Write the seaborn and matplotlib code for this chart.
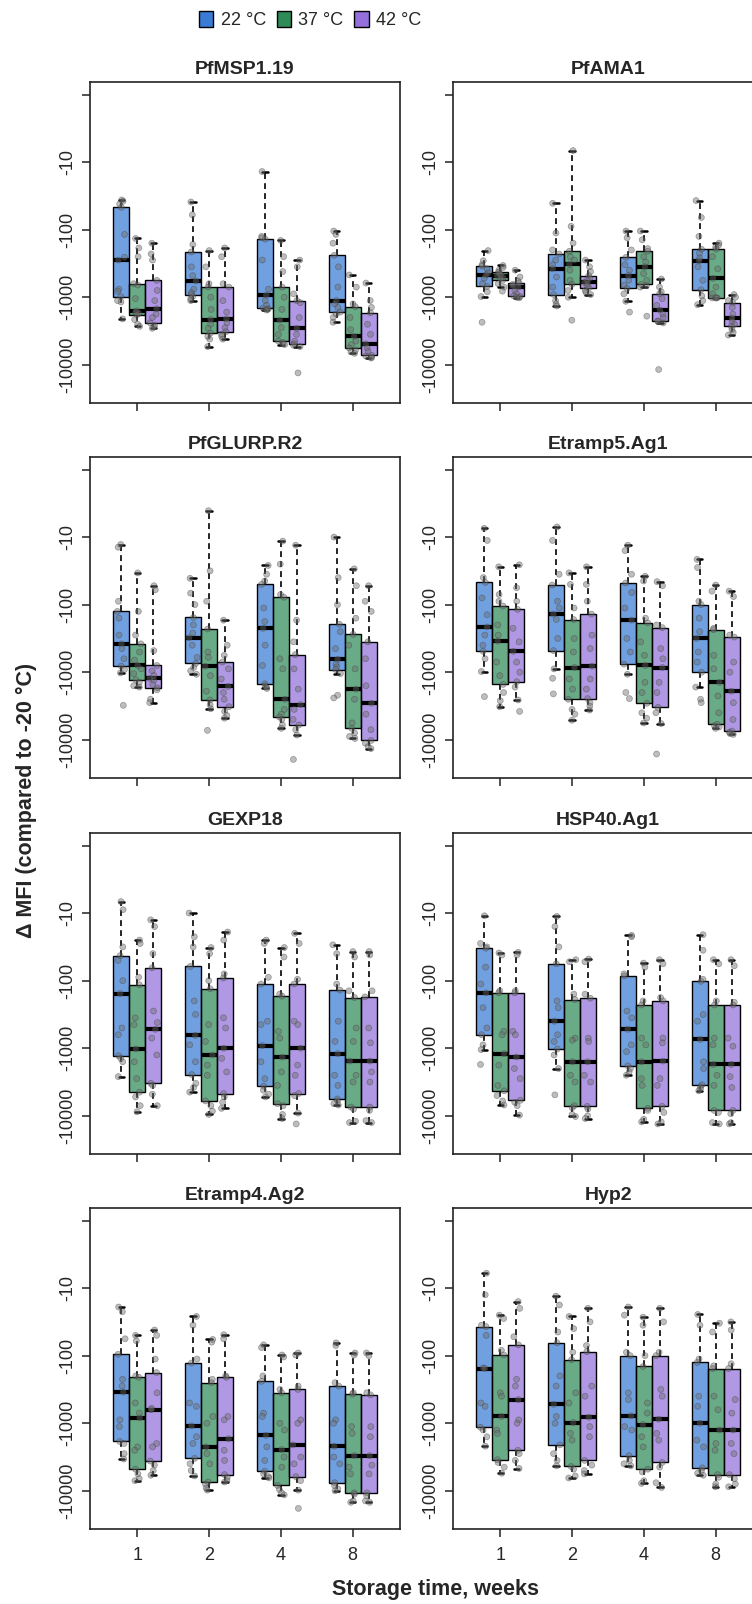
import numpy as np
import pandas as pd
import matplotlib

matplotlib.use("Agg")
import matplotlib.pyplot as plt
from matplotlib import font_manager
from matplotlib.colors import to_rgba
from matplotlib.patches import Patch
from matplotlib.ticker import NullLocator
import seaborn as sns

weeks = ["1", "2", "4", "8"]
temps = ["22 °C", "37 °C", "42 °C"]
temp_colors = ["#3A7BD5", "#2E8B57", "#9370DB"]
antigens = ["PfMSP1.19", "PfAMA1", "PfGLURP.R2", "Etramp5.Ag1",
            "GEXP18", "HSP40.Ag1", "Etramp4.Ag2", "Hyp2"]

# log10(|delta MFI|) per sample.
# 12 groups per antigen: week 1 (22, 37, 42 °C), week 2 (...), week 4, week 8
pfmsp1_19 = [
    [1.56, 1.58, 1.62, 1.67, 2.07, 2.41, 2.45, 2.88, 2.91, 2.99, 3.05, 3.07, 3.32],
    [2.13, 2.27, 2.40, 2.80, 2.82, 3.02, 3.20, 3.22, 3.24, 3.26, 3.33, 3.40, 3.43],
    [2.20, 2.36, 2.45, 2.75, 2.90, 3.05, 3.17, 3.25, 3.30, 3.38, 3.42, 3.44, 3.46],
    [1.59, 1.78, 2.22, 2.33, 2.55, 2.68, 2.76, 2.88, 2.93, 2.96, 2.99, 3.02, 3.05],
    [2.31, 2.55, 2.80, 2.85, 3.00, 3.18, 3.33, 3.40, 3.46, 3.53, 3.58, 3.62, 3.73],
    [2.27, 2.40, 2.80, 2.85, 3.05, 3.22, 3.32, 3.38, 3.45, 3.51, 3.55, 3.58, 3.62],
    [1.14, 2.10, 2.12, 2.14, 2.45, 2.88, 2.97, 3.05, 3.12, 3.16, 3.17, 3.18, 3.19],
    [2.16, 2.40, 2.62, 2.85, 3.00, 3.18, 3.34, 3.45, 3.55, 3.65, 3.67, 3.69, 3.70],
    [2.45, 2.55, 2.95, 3.05, 3.08, 3.30, 3.46, 3.55, 3.65, 3.69, 3.71, 3.73, 4.12],
    [2.02, 2.07, 2.20, 2.38, 2.55, 2.85, 3.05, 3.10, 3.15, 3.22, 3.25, 3.30, 3.37],
    [2.67, 2.85, 3.10, 3.14, 3.30, 3.48, 3.58, 3.65, 3.70, 3.75, 3.78, 3.81, 3.83],
    [2.79, 3.05, 3.15, 3.23, 3.40, 3.55, 3.69, 3.75, 3.80, 3.86, 3.87, 3.89, 3.90],
]
pfama1 = [
    [2.31, 2.46, 2.52, 2.54, 2.58, 2.64, 2.67, 2.72, 2.80, 2.84, 2.92, 2.99, 3.37],
    [2.53, 2.56, 2.60, 2.63, 2.65, 2.67, 2.68, 2.70, 2.72, 2.75, 2.80, 2.85, 2.91],
    [2.60, 2.70, 2.76, 2.79, 2.81, 2.83, 2.85, 2.90, 2.95, 2.98, 2.99, 3.00, 3.01],
    [1.61, 2.05, 2.30, 2.36, 2.45, 2.52, 2.58, 2.70, 2.85, 2.96, 3.05, 3.10, 3.13],
    [0.83, 1.95, 2.20, 2.32, 2.40, 2.45, 2.51, 2.60, 2.75, 2.81, 2.90, 3.00, 3.34],
    [2.45, 2.55, 2.62, 2.68, 2.72, 2.75, 2.78, 2.80, 2.83, 2.86, 2.90, 2.93, 2.96],
    [2.02, 2.12, 2.30, 2.41, 2.52, 2.60, 2.68, 2.75, 2.82, 2.87, 2.95, 3.06, 3.22],
    [2.02, 2.15, 2.28, 2.32, 2.40, 2.48, 2.55, 2.65, 2.75, 2.81, 2.83, 2.85, 3.28],
    [2.73, 2.85, 2.92, 2.95, 3.02, 3.12, 3.19, 3.25, 3.30, 3.35, 3.36, 3.38, 4.07],
    [1.57, 1.82, 2.10, 2.29, 2.35, 2.42, 2.46, 2.55, 2.75, 2.89, 2.98, 3.05, 3.11],
    [2.20, 2.23, 2.26, 2.29, 2.40, 2.58, 2.72, 2.85, 2.95, 3.01, 3.01, 3.01, 3.01],
    [2.96, 3.00, 3.05, 3.08, 3.15, 3.25, 3.31, 3.36, 3.40, 3.43, 3.48, 3.52, 3.56],
]
pfglurp_r2 = [
    [1.11, 1.15, 1.95, 2.10, 2.20, 2.45, 2.58, 2.65, 2.80, 2.91, 2.96, 3.01, 3.49],
    [1.53, 2.10, 2.45, 2.58, 2.70, 2.82, 2.90, 2.95, 3.02, 3.11, 3.15, 3.20, 3.22],
    [1.72, 1.78, 2.68, 2.90, 2.98, 3.05, 3.09, 3.12, 3.18, 3.23, 3.26, 3.40, 3.45],
    [1.61, 1.83, 2.00, 2.19, 2.30, 2.42, 2.49, 2.60, 2.78, 2.87, 2.93, 2.98, 3.03],
    [0.61, 1.50, 1.95, 2.36, 2.70, 2.78, 2.91, 3.05, 3.28, 3.41, 3.48, 3.54, 3.86],
    [2.23, 2.60, 2.75, 2.85, 2.95, 3.10, 3.21, 3.30, 3.40, 3.51, 3.58, 3.64, 3.68],
    [1.42, 1.55, 1.65, 1.70, 2.05, 2.25, 2.35, 2.60, 2.90, 3.17, 3.20, 3.22, 3.24],
    [1.06, 1.40, 1.85, 1.89, 2.80, 2.95, 3.40, 3.55, 3.62, 3.66, 3.70, 3.78, 3.83],
    [1.12, 2.23, 2.55, 2.74, 2.95, 3.25, 3.48, 3.55, 3.70, 3.78, 3.85, 3.93, 4.29],
    [1.00, 1.60, 2.00, 2.29, 2.40, 2.65, 2.81, 2.88, 2.92, 2.96, 3.02, 3.34, 3.38],
    [1.47, 1.72, 2.20, 2.44, 2.60, 2.95, 3.25, 3.40, 3.75, 3.83, 3.90, 3.95, 3.98],
    [1.72, 1.95, 2.10, 2.55, 2.80, 3.20, 3.46, 3.62, 3.85, 4.01, 4.05, 4.10, 4.13],
]
etramp5_ag1 = [
    [0.87, 1.05, 1.60, 1.67, 1.90, 2.15, 2.33, 2.45, 2.60, 2.69, 2.80, 2.99, 3.36],
    [1.44, 1.85, 1.95, 2.02, 2.30, 2.45, 2.54, 2.85, 3.05, 3.18, 3.30, 3.42, 3.51],
    [1.41, 1.75, 1.95, 2.07, 2.35, 2.55, 2.69, 2.85, 3.00, 3.14, 3.22, 3.41, 3.58],
    [0.85, 1.05, 1.55, 1.71, 1.95, 2.05, 2.14, 2.22, 2.50, 2.68, 2.95, 3.09, 3.32],
    [1.53, 1.70, 2.05, 2.22, 2.50, 2.70, 2.93, 3.10, 3.25, 3.40, 3.55, 3.62, 3.71],
    [1.44, 1.70, 1.95, 2.14, 2.45, 2.65, 2.91, 3.10, 3.25, 3.39, 3.45, 3.50, 3.56],
    [1.12, 1.20, 1.55, 1.68, 1.82, 2.05, 2.23, 2.50, 2.70, 2.88, 3.03, 3.30, 3.39],
    [1.58, 1.65, 2.20, 2.27, 2.55, 2.75, 2.90, 3.15, 3.30, 3.46, 3.60, 3.68, 3.75],
    [1.66, 1.72, 2.30, 2.34, 2.65, 2.80, 2.93, 3.15, 3.30, 3.52, 3.60, 3.76, 4.21],
    [1.33, 1.45, 1.95, 2.00, 2.20, 2.40, 2.50, 2.70, 2.85, 3.00, 3.22, 3.40, 3.45],
    [1.71, 1.80, 2.35, 2.37, 2.75, 2.95, 3.15, 3.35, 3.60, 3.77, 3.79, 3.81, 3.83],
    [1.80, 1.88, 2.45, 2.48, 2.85, 3.00, 3.28, 3.45, 3.70, 3.87, 3.89, 3.91, 3.92],
]
gexp18 = [
    [0.83, 0.95, 1.50, 1.63, 1.70, 2.00, 2.19, 2.70, 2.80, 3.11, 3.15, 3.20, 3.42],
    [1.40, 1.45, 1.95, 2.06, 2.55, 2.65, 3.01, 3.20, 3.45, 3.65, 3.72, 3.85, 3.94],
    [1.10, 1.20, 1.60, 1.81, 2.45, 2.62, 2.72, 2.85, 3.10, 3.52, 3.55, 3.68, 3.85],
    [1.00, 1.35, 1.50, 1.79, 2.30, 2.50, 2.81, 2.95, 3.20, 3.39, 3.52, 3.58, 3.65],
    [1.51, 1.60, 2.00, 2.12, 2.65, 2.90, 3.10, 3.25, 3.40, 3.78, 3.85, 3.93, 3.98],
    [1.28, 1.40, 1.90, 1.96, 2.55, 2.70, 3.00, 3.15, 3.35, 3.67, 3.72, 3.80, 3.89],
    [1.40, 1.45, 1.95, 2.05, 2.60, 2.65, 2.96, 3.20, 3.45, 3.56, 3.62, 3.68, 3.72],
    [1.51, 1.65, 2.20, 2.23, 2.75, 2.85, 3.13, 3.35, 3.55, 3.82, 3.85, 3.98, 4.04],
    [1.30, 1.45, 1.98, 2.05, 2.60, 2.65, 3.00, 3.25, 3.40, 3.67, 3.70, 3.96, 4.12],
    [1.47, 1.60, 2.05, 2.14, 2.60, 2.90, 3.08, 3.40, 3.55, 3.75, 3.78, 3.82, 3.84],
    [1.57, 1.65, 2.15, 2.25, 2.70, 2.90, 3.19, 3.40, 3.50, 3.87, 3.90, 4.08, 4.10],
    [1.57, 1.62, 2.15, 2.24, 2.70, 2.92, 3.19, 3.35, 3.50, 3.87, 3.92, 4.07, 4.10],
]
hsp40_ag1 = [
    [1.04, 1.45, 1.50, 1.52, 1.80, 2.05, 2.18, 2.40, 2.70, 2.80, 2.95, 3.02, 3.24],
    [1.59, 1.62, 2.15, 2.18, 2.75, 2.80, 3.08, 3.25, 3.55, 3.63, 3.70, 3.78, 3.84],
    [1.58, 1.62, 2.15, 2.18, 2.75, 2.80, 3.13, 3.30, 3.45, 3.77, 3.80, 3.85, 3.99],
    [1.05, 1.20, 1.50, 1.75, 2.30, 2.40, 2.60, 2.80, 2.90, 3.01, 3.10, 3.30, 3.69],
    [1.69, 1.72, 2.20, 2.28, 2.85, 2.88, 3.20, 3.40, 3.50, 3.85, 3.88, 3.98, 4.01],
    [1.68, 1.72, 2.20, 2.26, 2.85, 2.90, 3.20, 3.40, 3.50, 3.86, 3.90, 4.00, 4.04],
    [1.33, 1.35, 1.90, 1.93, 2.45, 2.55, 2.72, 2.95, 3.05, 3.26, 3.30, 3.35, 3.40],
    [1.74, 1.80, 2.30, 2.36, 2.85, 2.95, 3.20, 3.45, 3.55, 3.89, 3.92, 4.05, 4.09],
    [1.69, 1.75, 2.25, 2.30, 2.85, 2.92, 3.19, 3.45, 3.55, 3.86, 3.95, 4.09, 4.12],
    [1.32, 1.55, 1.98, 2.01, 2.50, 2.60, 2.87, 3.20, 3.30, 3.54, 3.57, 3.60, 3.63],
    [1.69, 1.75, 2.30, 2.36, 2.85, 2.95, 3.24, 3.40, 3.55, 3.92, 3.95, 4.10, 4.12],
    [1.69, 1.78, 2.32, 2.36, 2.85, 2.97, 3.24, 3.42, 3.58, 3.92, 3.97, 4.10, 4.12],
]
etramp4_ag2 = [
    [1.28, 1.35, 1.75, 1.98, 2.35, 2.45, 2.54, 2.95, 3.05, 3.27, 3.30, 3.45, 3.53],
    [1.70, 1.78, 2.30, 2.32, 2.70, 2.85, 2.92, 3.35, 3.40, 3.68, 3.75, 3.82, 3.85],
    [1.62, 1.70, 2.05, 2.25, 2.55, 2.78, 2.80, 3.30, 3.35, 3.56, 3.62, 3.70, 3.77],
    [1.42, 1.55, 2.05, 2.11, 2.70, 2.75, 3.04, 3.20, 3.30, 3.52, 3.60, 3.70, 3.78],
    [1.76, 1.80, 2.35, 2.40, 2.90, 3.00, 3.35, 3.45, 3.60, 3.87, 3.90, 3.96, 3.99],
    [1.69, 1.75, 2.30, 2.32, 2.90, 2.95, 3.23, 3.40, 3.55, 3.76, 3.80, 3.85, 3.87],
    [1.84, 1.88, 2.30, 2.38, 2.85, 2.90, 3.18, 3.35, 3.55, 3.71, 3.75, 3.79, 3.81],
    [1.99, 2.02, 2.50, 2.55, 3.00, 3.10, 3.39, 3.50, 3.65, 3.92, 3.98, 4.03, 4.06],
    [1.96, 1.99, 2.45, 2.50, 2.95, 3.00, 3.32, 3.50, 3.60, 3.79, 3.85, 3.99, 4.26],
    [1.81, 1.85, 2.40, 2.45, 2.95, 3.00, 3.34, 3.50, 3.60, 3.88, 3.92, 3.97, 4.00],
    [1.96, 1.99, 2.55, 2.57, 3.05, 3.15, 3.48, 3.65, 3.75, 4.03, 4.05, 4.15, 4.17],
    [1.96, 2.00, 2.55, 2.58, 3.05, 3.20, 3.48, 3.62, 3.75, 4.03, 4.07, 4.15, 4.17],
]
hyp2 = [
    [0.78, 1.10, 1.55, 1.57, 1.70, 2.18, 2.19, 2.70, 2.75, 3.06, 3.10, 3.20, 3.34],
    [1.40, 1.45, 1.92, 1.99, 2.55, 2.60, 2.90, 3.10, 3.15, 3.54, 3.58, 3.65, 3.74],
    [1.20, 1.30, 1.72, 1.84, 2.35, 2.45, 2.65, 2.95, 3.00, 3.40, 3.45, 3.55, 3.67],
    [1.12, 1.25, 1.65, 1.81, 2.30, 2.45, 2.72, 2.90, 3.00, 3.32, 3.45, 3.55, 3.63],
    [1.42, 1.60, 1.95, 2.06, 2.55, 2.70, 2.99, 3.15, 3.25, 3.64, 3.68, 3.78, 3.81],
    [1.30, 1.50, 1.85, 1.94, 2.45, 2.60, 2.91, 3.05, 3.20, 3.55, 3.62, 3.70, 3.75],
    [1.28, 1.40, 1.95, 2.00, 2.55, 2.65, 2.89, 3.05, 3.10, 3.48, 3.55, 3.60, 3.63],
    [1.43, 1.55, 2.00, 2.16, 2.70, 2.85, 3.02, 3.20, 3.35, 3.68, 3.72, 3.85, 3.89],
    [1.30, 1.50, 1.95, 2.00, 2.50, 2.60, 2.94, 3.15, 3.25, 3.58, 3.65, 3.88, 3.95],
    [1.39, 1.55, 2.05, 2.10, 2.60, 2.75, 3.00, 3.25, 3.35, 3.66, 3.70, 3.74, 3.77],
    [1.52, 1.65, 2.15, 2.19, 2.60, 2.80, 3.10, 3.30, 3.40, 3.76, 3.80, 3.90, 3.94],
    [1.50, 1.62, 2.12, 2.19, 2.65, 2.85, 3.10, 3.30, 3.45, 3.76, 3.82, 3.90, 3.94],
]
panel_data = [pfmsp1_19, pfama1, pfglurp_r2, etramp5_ag1,
              gexp18, hsp40_ag1, etramp4_ag2, hyp2]

records = []
for name, groups in zip(antigens, panel_data):
    for i, vals in enumerate(groups):
        for v in vals:
            records.append((name, weeks[i // 3], temps[i % 3], -(10.0 ** v)))
df = pd.DataFrame(records, columns=["antigen", "week", "temp", "dmfi"])


def fwd(y):
    y = np.asarray(y, dtype=float)
    return -np.log10(np.clip(-y, 1e-9, None))


def inv(u):
    return -(10.0 ** (-np.asarray(u, dtype=float)))


sns.set_style("ticks")
available = {f.name for f in font_manager.fontManager.ttflist}
narrow = "Liberation Sans Narrow" if "Liberation Sans Narrow" in available else "Liberation Sans"
plt.rcParams["font.family"] = ["Liberation Sans", "DejaVu Sans"]

np.random.seed(3)
W, H = 752, 1604
fig = plt.figure(figsize=(W / 100, H / 100), dpi=100)
lefts = [90, 453]
tops = [82, 457, 833, 1208]
pw, ph = 310, 321
box_w = 0.67
ylo, yhi = -(10 ** 4.565), -(10 ** -0.185)

for k, name in enumerate(antigens):
    r, c = divmod(k, 2)
    ax = fig.add_axes([lefts[c] / W, 1 - (tops[r] + ph) / H, pw / W, ph / H])
    sub = df[df["antigen"] == name]
    sns.boxplot(data=sub, x="week", y="dmfi", hue="temp", order=weeks, hue_order=temps,
                palette=temp_colors, saturation=1, width=box_w, dodge=True,
                showfliers=False, linecolor="black", linewidth=1, whis=1.5,
                medianprops=dict(linewidth=3),
                whiskerprops=dict(linestyle=(0, (3.5, 2.5)), linewidth=1.2),
                capprops=dict(linewidth=1.8), capwidths=0.075,
                legend=False, ax=ax)
    for p in ax.patches:
        p.set_facecolor(to_rgba(p.get_facecolor(), 0.72))

    n0 = len(ax.collections)
    sns.stripplot(data=sub, x="week", y="dmfi", hue="temp", order=weeks, hue_order=temps,
                  palette={t: "#6e6e6e" for t in temps}, dodge=True, jitter=0.2,
                  size=4.3, alpha=0.45, edgecolor="#3c3c3c", linewidth=0.5,
                  legend=False, ax=ax)
    # pull the dodged strips onto the box centres
    for coll in ax.collections[n0:]:
        off = np.array(coll.get_offsets())
        if len(off):
            ctr = np.round(off[:, 0])
            off[:, 0] = ctr + (off[:, 0] - ctr) * box_w / 0.8
            coll.set_offsets(off)

    ax.set_ylim(ylo, yhi)
    ax.set_yscale("function", functions=(fwd, inv))
    ax.set_ylim(ylo, yhi)
    ax.set_xlim(-0.66, 3.66)
    ax.set_yticks([-1, -10, -100, -1000, -10000])
    ax.set_yticklabels(["", "-10", "-100", "-1000", "-10000"], rotation=90,
                       va="center", family=narrow, fontsize=13)
    ax.yaxis.set_minor_locator(NullLocator())
    ax.set_xticks(range(len(weeks)))
    ax.set_xticklabels(weeks, family=narrow, fontsize=13)
    ax.tick_params(axis="both", direction="out", length=6, width=1.1,
                   color="#222222", pad=4)
    ax.tick_params(axis="x", labelbottom=(r == 3), pad=7)
    ax.set_xlabel("")
    ax.set_ylabel("")
    for sp in ax.spines.values():
        sp.set_visible(True)
        sp.set_linewidth(1.2)
        sp.set_color("#222222")
    ax.set_title(name, fontweight="bold", fontsize=14, pad=6, family=narrow)

handles = [Patch(facecolor=col, edgecolor="black", linewidth=1) for col in temp_colors]
fig.legend(handles, temps, loc="center", bbox_to_anchor=(310 / W, 1 - 20 / H),
           ncol=3, frameon=False, prop={"family": narrow, "size": 13},
           handlelength=0.8, handleheight=1.0, handletextpad=0.4, columnspacing=0.6)

fig.text(435 / W, 1 - 1590 / H, "Storage time, weeks", ha="center", va="center",
         fontsize=15.5, fontweight="bold")
fig.text(26 / W, 1 - 800 / H, "Δ MFI (compared to -20 °C)", ha="center", va="center",
         rotation=90, fontsize=15.5, fontweight="bold")

fig.savefig("out.png", dpi=100)
plt.close(fig)
